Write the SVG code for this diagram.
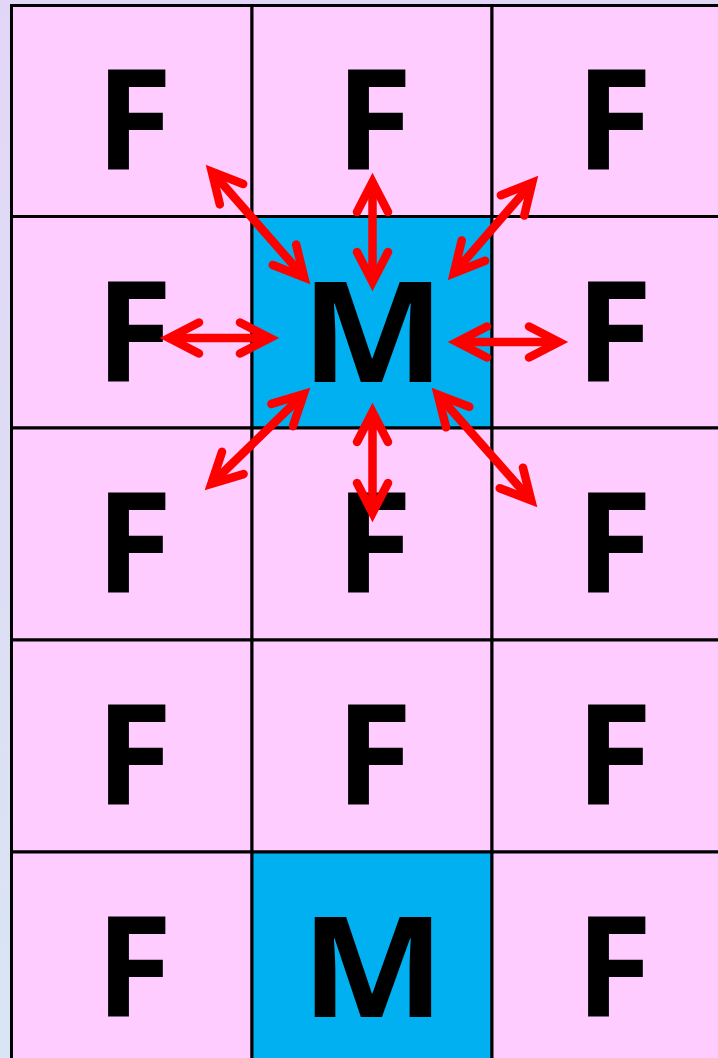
<svg xmlns="http://www.w3.org/2000/svg" width="718" height="1058" viewBox="0 0 718 1058">
<defs>
<linearGradient id="bg" x1="0" y1="0" x2="0" y2="1">
<stop offset="0" stop-color="#E2D6F6"/>
<stop offset="1" stop-color="#D9E5F4"/>
</linearGradient>
<marker id="ah" markerUnits="userSpaceOnUse" markerWidth="80" markerHeight="80" viewBox="-40 -40 80 80" refX="0" refY="0" orient="auto-start-reverse" overflow="visible">
<path d="M-30,-15.5 L0,0 L-30,15.5" fill="none" stroke="#FF0000" stroke-width="8.5" stroke-linecap="round" stroke-linejoin="miter" stroke-miterlimit="10"/>
</marker>
<style>
.pink{fill:#FFCCFF;stroke:#000;stroke-width:3}
.blue{fill:#00B0F0;stroke:#000;stroke-width:3}
.lbl{font-family:"Open Sans","Liberation Sans",sans-serif;font-weight:bold;font-size:140px;fill:#000;text-anchor:middle}
.arr{stroke:#FF0000;stroke-width:8.5;fill:none;stroke-linecap:butt;marker-start:url(#ah);marker-end:url(#ah)}
</style>
</defs>
<rect x="0" y="0" width="718" height="1058" fill="url(#bg)"/>
<g id="r1c1"><rect class="pink" x="11.5" y="5.5" width="240.5" height="211"/><text class="lbl" x="134" y="170">F</text></g>
<g id="r1c2"><rect class="pink" x="252" y="5.5" width="240" height="211"/><text class="lbl" x="374" y="170">F</text></g>
<g id="r1c3"><rect class="pink" x="492" y="5.5" width="240" height="211"/><text class="lbl" x="614" y="170">F</text></g>
<g id="r2c1"><rect class="pink" x="11.5" y="216.5" width="240.5" height="211.5"/><text class="lbl" x="134" y="382">F</text></g>
<g id="r2c2"><rect class="blue" x="252" y="216.5" width="240" height="211.5"/><text class="lbl" x="373" y="382" transform="translate(373 0) scale(1.09 1) translate(-373 0)">M</text></g>
<g id="r2c3"><rect class="pink" x="492" y="216.5" width="240" height="211.5"/><text class="lbl" x="614" y="382">F</text></g>
<g id="r3c1"><rect class="pink" x="11.5" y="428" width="240.5" height="212"/><text class="lbl" x="134" y="593">F</text></g>
<g id="r3c2"><rect class="pink" x="252" y="428" width="240" height="212"/><text class="lbl" x="374" y="593">F</text></g>
<g id="r3c3"><rect class="pink" x="492" y="428" width="240" height="212"/><text class="lbl" x="614" y="593">F</text></g>
<g id="r4c1"><rect class="pink" x="11.5" y="640" width="240.5" height="212"/><text class="lbl" x="134" y="805">F</text></g>
<g id="r4c2"><rect class="pink" x="252" y="640" width="240" height="212"/><text class="lbl" x="374" y="805">F</text></g>
<g id="r4c3"><rect class="pink" x="492" y="640" width="240" height="212"/><text class="lbl" x="614" y="805">F</text></g>
<g id="r5c1"><rect class="pink" x="11.5" y="852" width="240.5" height="220"/><text class="lbl" x="134" y="1017">F</text></g>
<g id="r5c2"><rect class="blue" x="252" y="852" width="240" height="220"/><text class="lbl" x="373" y="1017" transform="translate(373 0) scale(1.09 1) translate(-373 0)">M</text></g>
<g id="r5c3"><rect class="pink" x="492" y="852" width="240" height="220"/><text class="lbl" x="614" y="1017">F</text></g>
<g id="connectors">
<line class="arr" x1="211.8" y1="171.6" x2="304.2" y2="277.4"/>
<line class="arr" x1="372.5" y1="182" x2="372.5" y2="282"/>
<line class="arr" x1="532.2" y1="182.7" x2="453.8" y2="273.3"/>
<line class="arr" x1="169" y1="338" x2="270" y2="338"/>
<line class="arr" x1="457" y1="342" x2="559" y2="342"/>
<line class="arr" x1="303.7" y1="394.1" x2="211.3" y2="483.9"/>
<line class="arr" x1="372.5" y1="412" x2="372.5" y2="513"/>
<line class="arr" x1="437.8" y1="394.6" x2="531.2" y2="500.4"/>
</g>
</svg>
